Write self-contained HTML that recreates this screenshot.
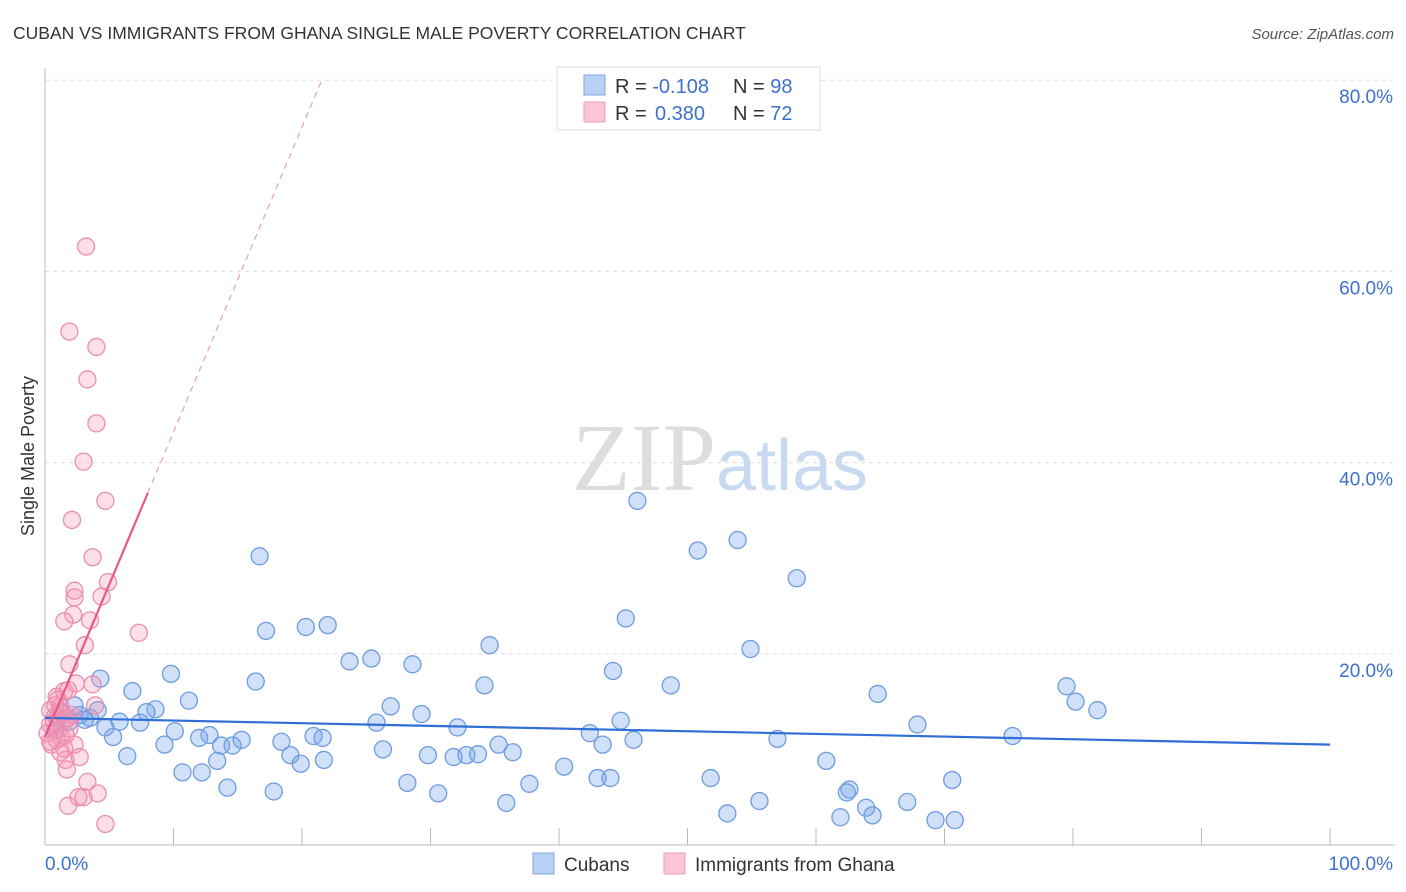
<!DOCTYPE html>
<html><head><meta charset="utf-8"><style>
body{margin:0;background:#fff;font-family:"Liberation Sans",sans-serif;}
svg{display:block}
</style></head><body>
<svg id="chart" width="1406" height="892" xmlns="http://www.w3.org/2000/svg">
<text x="13" y="39" font-size="17.5" fill="#333">CUBAN VS IMMIGRANTS FROM GHANA SINGLE MALE POVERTY CORRELATION CHART</text>
<text x="1394" y="39" font-size="15" fill="#555" text-anchor="end" font-style="italic">Source: ZipAtlas.com</text>
<text x="720" y="490" font-size="96" text-anchor="middle" fill="#ddd" font-family="Liberation Serif">ZIP<tspan fill="#c9daf0" font-family="Liberation Sans" font-size="72">atlas</tspan></text>
<text transform="translate(34,456) rotate(-90)" font-size="18" fill="#333" text-anchor="middle">Single Male Poverty</text>
<g id="grid"></g><g id="pts"></g><g id="trend"></g>
<g>
<rect x="557" y="67" width="263" height="63" fill="#fff" stroke="#ddd"/>
<rect x="584" y="75" width="21" height="20" fill="#b8d0f3" stroke="#7ea6e0"/>
<rect x="584" y="102" width="21" height="20" fill="#fcc6d6" stroke="#f09ab4"/>
<text x="615" y="93" font-size="20" fill="#333">R = <tspan fill="#3d72cc">-0.108</tspan><tspan x="733">N = </tspan><tspan fill="#3d72cc">98</tspan></text>
<text x="615" y="120" font-size="20" fill="#333">R = <tspan x="655" fill="#3d72cc">0.380</tspan><tspan x="733">N = </tspan><tspan fill="#3d72cc">72</tspan></text>
</g>
<g>
<rect x="533" y="853" width="21" height="21" fill="#b8d0f3" stroke="#7ea6e0"/>
<text x="564" y="871" font-size="19" fill="#333">Cubans</text>
<rect x="664" y="853" width="21" height="21" fill="#fcc6d6" stroke="#f09ab4"/>
<text x="695" y="871" font-size="19" fill="#333">Immigrants from Ghana</text>
</g>
</svg>
<script>
const yTicks=[20,40,60,80];
const yTickLabels=["20.0%","40.0%","60.0%","80.0%"];
const xEndLabels=["0.0%","100.0%"];
const blueX=[46.1,50.8,53.9,58.5,16.7,45.2,17.2,20.3,22.0,34.6,54.9,23.7,25.4,28.6,44.2,9.8,16.4,34.2,48.7,64.8,79.5,80.2,81.9,4.3,6.8,11.2,26.9,29.3,8.6,7.9,5.8,3.5,4.7,7.4,25.8,32.1,44.8,67.9,75.3,12.8,12.0,10.1,5.3,9.3,13.7,14.6,15.3,18.4,20.9,21.6,26.3,35.3,42.4,43.4,45.8,57.0,19.1,6.4,13.4,19.9,21.7,29.8,31.8,32.8,33.7,36.4,60.8,40.4,10.7,12.2,43.0,44.0,51.8,28.2,37.7,70.6,14.2,17.8,30.6,62.6,62.4,35.9,55.6,67.1,53.1,63.9,64.4,61.9,69.3,70.8,4.1,2.7,1.2,1.9,3.1,0.8,2.3,1.0];
const blueY=[36.0,30.8,31.9,27.9,30.2,23.7,22.4,22.8,23.0,20.9,20.5,19.2,19.5,18.9,18.2,17.9,17.1,16.7,16.7,15.8,16.6,15.0,14.1,17.4,16.1,15.1,14.5,13.7,14.2,13.9,12.9,13.3,12.3,12.8,12.8,12.3,13.0,12.6,11.4,11.5,11.2,11.9,11.3,10.5,10.4,10.4,11.0,10.8,11.4,11.2,10.0,10.5,11.7,10.5,11.0,11.1,9.4,9.3,8.8,8.5,8.9,9.4,9.2,9.4,9.5,9.7,8.8,8.2,7.6,7.6,7.0,7.0,7.0,6.5,6.4,6.8,6.0,5.6,5.4,5.8,5.5,4.4,4.6,4.5,3.3,3.9,3.1,2.9,2.6,2.6,14.1,13.6,13.9,12.9,13.1,12.0,14.6,13.3];
const pinkX=[3.2,1.9,4.0,3.3,4.0,3.0,4.7,2.1,3.7,4.9,2.3,2.3,4.4,2.2,1.5,3.5,7.3,3.1,1.9,2.4,3.7,1.5,0.9,3.9,1.8,1.2,0.4,0.8,1.6,0.4,1.0,1.9,0.2,1.3,2.3,0.5,2.7,1.2,1.6,1.7,3.3,3.0,4.1,2.6,1.8,4.7,1.0,1.3,0.7,1.6,2.1,0.9,1.5,1.8,0.4,0.8];
const pinkY=[62.6,53.7,52.1,48.7,44.1,40.1,36.0,34.0,30.1,27.5,26.6,25.9,26.0,24.1,23.4,23.5,22.2,20.9,18.9,16.9,16.8,16.1,15.5,14.6,16.2,14.5,14.1,13.5,13.1,12.6,12.0,12.2,11.7,11.2,10.5,10.5,9.2,9.7,8.9,7.9,6.6,5.0,5.4,5.0,4.1,2.2,15.2,13.9,12.9,11.5,13.6,11.0,10.1,13.3,10.8,14.6];
const blueTrend=[13.3,10.5];
const pinkTrend={intercept:11.3,slope:3.19,solidEnd:8.0};
const NS="http://www.w3.org/2000/svg";
const X=v=>45+v*12.85, Y=v=>845-v*9.56;
function mk(p,t,a){const e=document.createElementNS(NS,t);for(const k in a)e.setAttribute(k,a[k]);p.appendChild(e);return e;}
const grid=document.getElementById('grid');
yTicks.forEach((t,i)=>{
 const l=mk(grid,'line',{x1:45,x2:1395,y1:Y(t),y2:Y(t),stroke:'#ddd','stroke-dasharray':'4,4'});
 
 
 const tx=mk(grid,'text',{x:1393,y:Y(t)+23,'font-size':19,fill:'#3d72cc','text-anchor':'end'});
 tx.textContent=yTickLabels[i];
 
 
});
const ax=mk(grid,'line',{x1:45,x2:45,y1:68,y2:845,stroke:'#bbb'});


const bx=mk(grid,'line',{x1:45,x2:1395,y1:845,y2:845,stroke:'#bbb'});


for(let i=1;i<=10;i++){const t=mk(grid,'line',{x1:X(i*10),x2:X(i*10),y1:828,y2:845,stroke:'#bbb'});
 
 }
[[0,45,'start'],[100,1393,'end']].forEach((d,i)=>{const t=mk(grid,'text',{x:d[1],y:870,'font-size':19,fill:'#3d72cc','text-anchor':d[2]});t.textContent=xEndLabels[i];
 
 });
const pts=document.getElementById('pts');
blueX.forEach((x,i)=>{const c=mk(pts,'circle',{cx:X(x),cy:Y(blueY[i]),r:8.5,fill:'rgba(120,165,235,0.35)',stroke:'#6d9ce0','stroke-width':1.3});
 
 });
pinkX.forEach((x,i)=>{const c=mk(pts,'circle',{cx:X(x),cy:Y(pinkY[i]),r:8.5,fill:'rgba(245,150,180,0.3)',stroke:'#ec8db0','stroke-width':1.3});
 
 });
const tr=document.getElementById('trend');
const b=mk(tr,'line',{x1:X(0),y1:Y(blueTrend[0]),x2:X(100),y2:Y(blueTrend[1]),stroke:'#2f6fd6','stroke-width':2.2});


const pf=x=>pinkTrend.intercept+pinkTrend.slope*x;
const xEnd=(80-pinkTrend.intercept)/pinkTrend.slope;
const pd=mk(tr,'line',{x1:X(pinkTrend.solidEnd),y1:Y(pf(pinkTrend.solidEnd)),x2:X(xEnd),y2:Y(80),stroke:'#ee9ab8','stroke-width':1.2,'stroke-dasharray':'6,5'});


const ps=mk(tr,'line',{x1:X(0),y1:Y(pf(0)),x2:X(pinkTrend.solidEnd),y2:Y(pf(pinkTrend.solidEnd)),stroke:'#e8588a','stroke-width':2.2});


</script>
</body></html>
